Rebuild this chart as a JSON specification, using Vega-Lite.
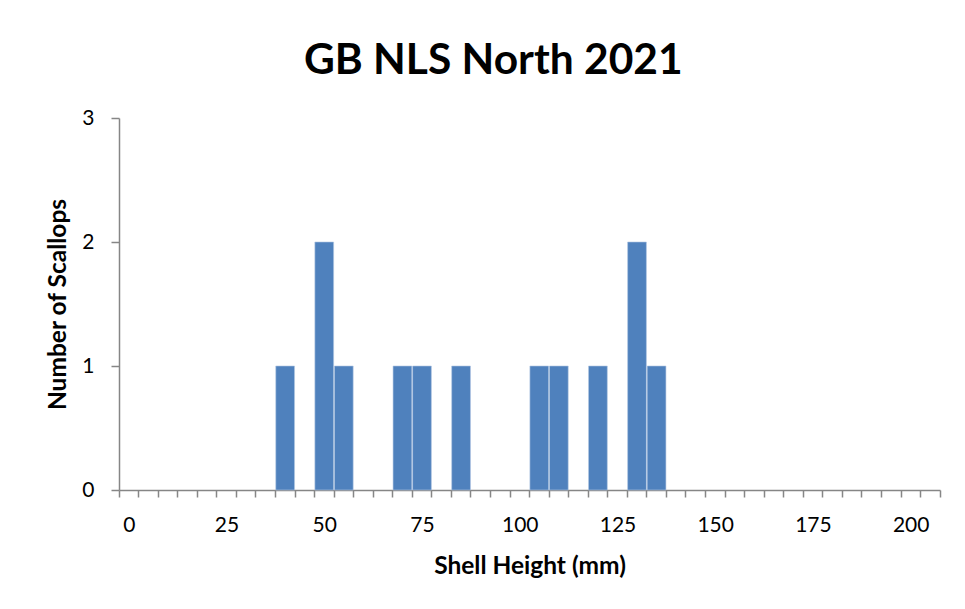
{
  "$schema": "https://vega.github.io/schema/vega-lite/v6.json",
  "width": 821,
  "height": 372,
  "autosize": {"type": "none"},
  "padding": {"left": 119, "top": 118, "right": 25, "bottom": 119},
  "background": "white",
  "title": {
    "text": "GB NLS North 2021",
    "font": "Lato",
    "fontSize": 42.5,
    "fontWeight": "bold",
    "color": "#000000",
    "anchor": "middle",
    "frame": "bounds",
    "offset": 25
  },
  "data": {
    "values": [
      {"height": 40, "count": 1},
      {"height": 50, "count": 2},
      {"height": 55, "count": 1},
      {"height": 70, "count": 1},
      {"height": 75, "count": 1},
      {"height": 85, "count": 1},
      {"height": 105, "count": 1},
      {"height": 110, "count": 1},
      {"height": 120, "count": 1},
      {"height": 130, "count": 2},
      {"height": 135, "count": 1}
    ]
  },
  "mark": {"type": "bar", "color": "#4F81BD", "stroke": "#B4C8E3", "strokeWidth": 0.6},
  "encoding": {
    "x": {
      "field": "height",
      "type": "ordinal",
      "scale": {
        "domain": [0,5,10,15,20,25,30,35,40,45,50,55,60,65,70,75,80,85,90,95,100,105,110,115,120,125,130,135,140,145,150,155,160,165,170,175,180,185,190,195,200,205],
        "paddingInner": 0.04,
        "paddingOuter": 0.02
      },
      "axis": {
        "title": "Shell Height (mm)",
        "titleFont": "Lato",
        "titleFontSize": 24.5,
        "titleFontWeight": "bold",
        "titleColor": "#000000",
        "titlePadding": 19,
        "labelAngle": 0,
        "labelExpr": "datum.value % 25 === 0 ? datum.value : ''",
        "labelFont": "Lato",
        "labelFontSize": 21,
        "labelColor": "#000000",
        "labelPadding": 17,
        "labelOverlap": false,
        "tickBand": "extent",
        "tickColor": "#868686",
        "tickWidth": 1.5,
        "tickSize": 7,
        "domainColor": "#868686",
        "domainWidth": 1.5,
        "grid": false
      }
    },
    "y": {
      "field": "count",
      "type": "quantitative",
      "scale": {"domain": [0, 3]},
      "axis": {
        "title": "Number of Scallops",
        "titleFont": "Lato",
        "titleFontSize": 24.5,
        "titleFontWeight": "bold",
        "titleColor": "#000000",
        "titlePadding": 11,
        "values": [0, 1, 2, 3],
        "format": "d",
        "labelFont": "Lato",
        "labelFontSize": 21,
        "labelColor": "#000000",
        "labelPadding": 17,
        "tickColor": "#868686",
        "tickWidth": 1.5,
        "tickSize": 8,
        "domainColor": "#868686",
        "domainWidth": 1.5,
        "grid": false
      }
    }
  },
  "config": {"view": {"stroke": null}}
}
